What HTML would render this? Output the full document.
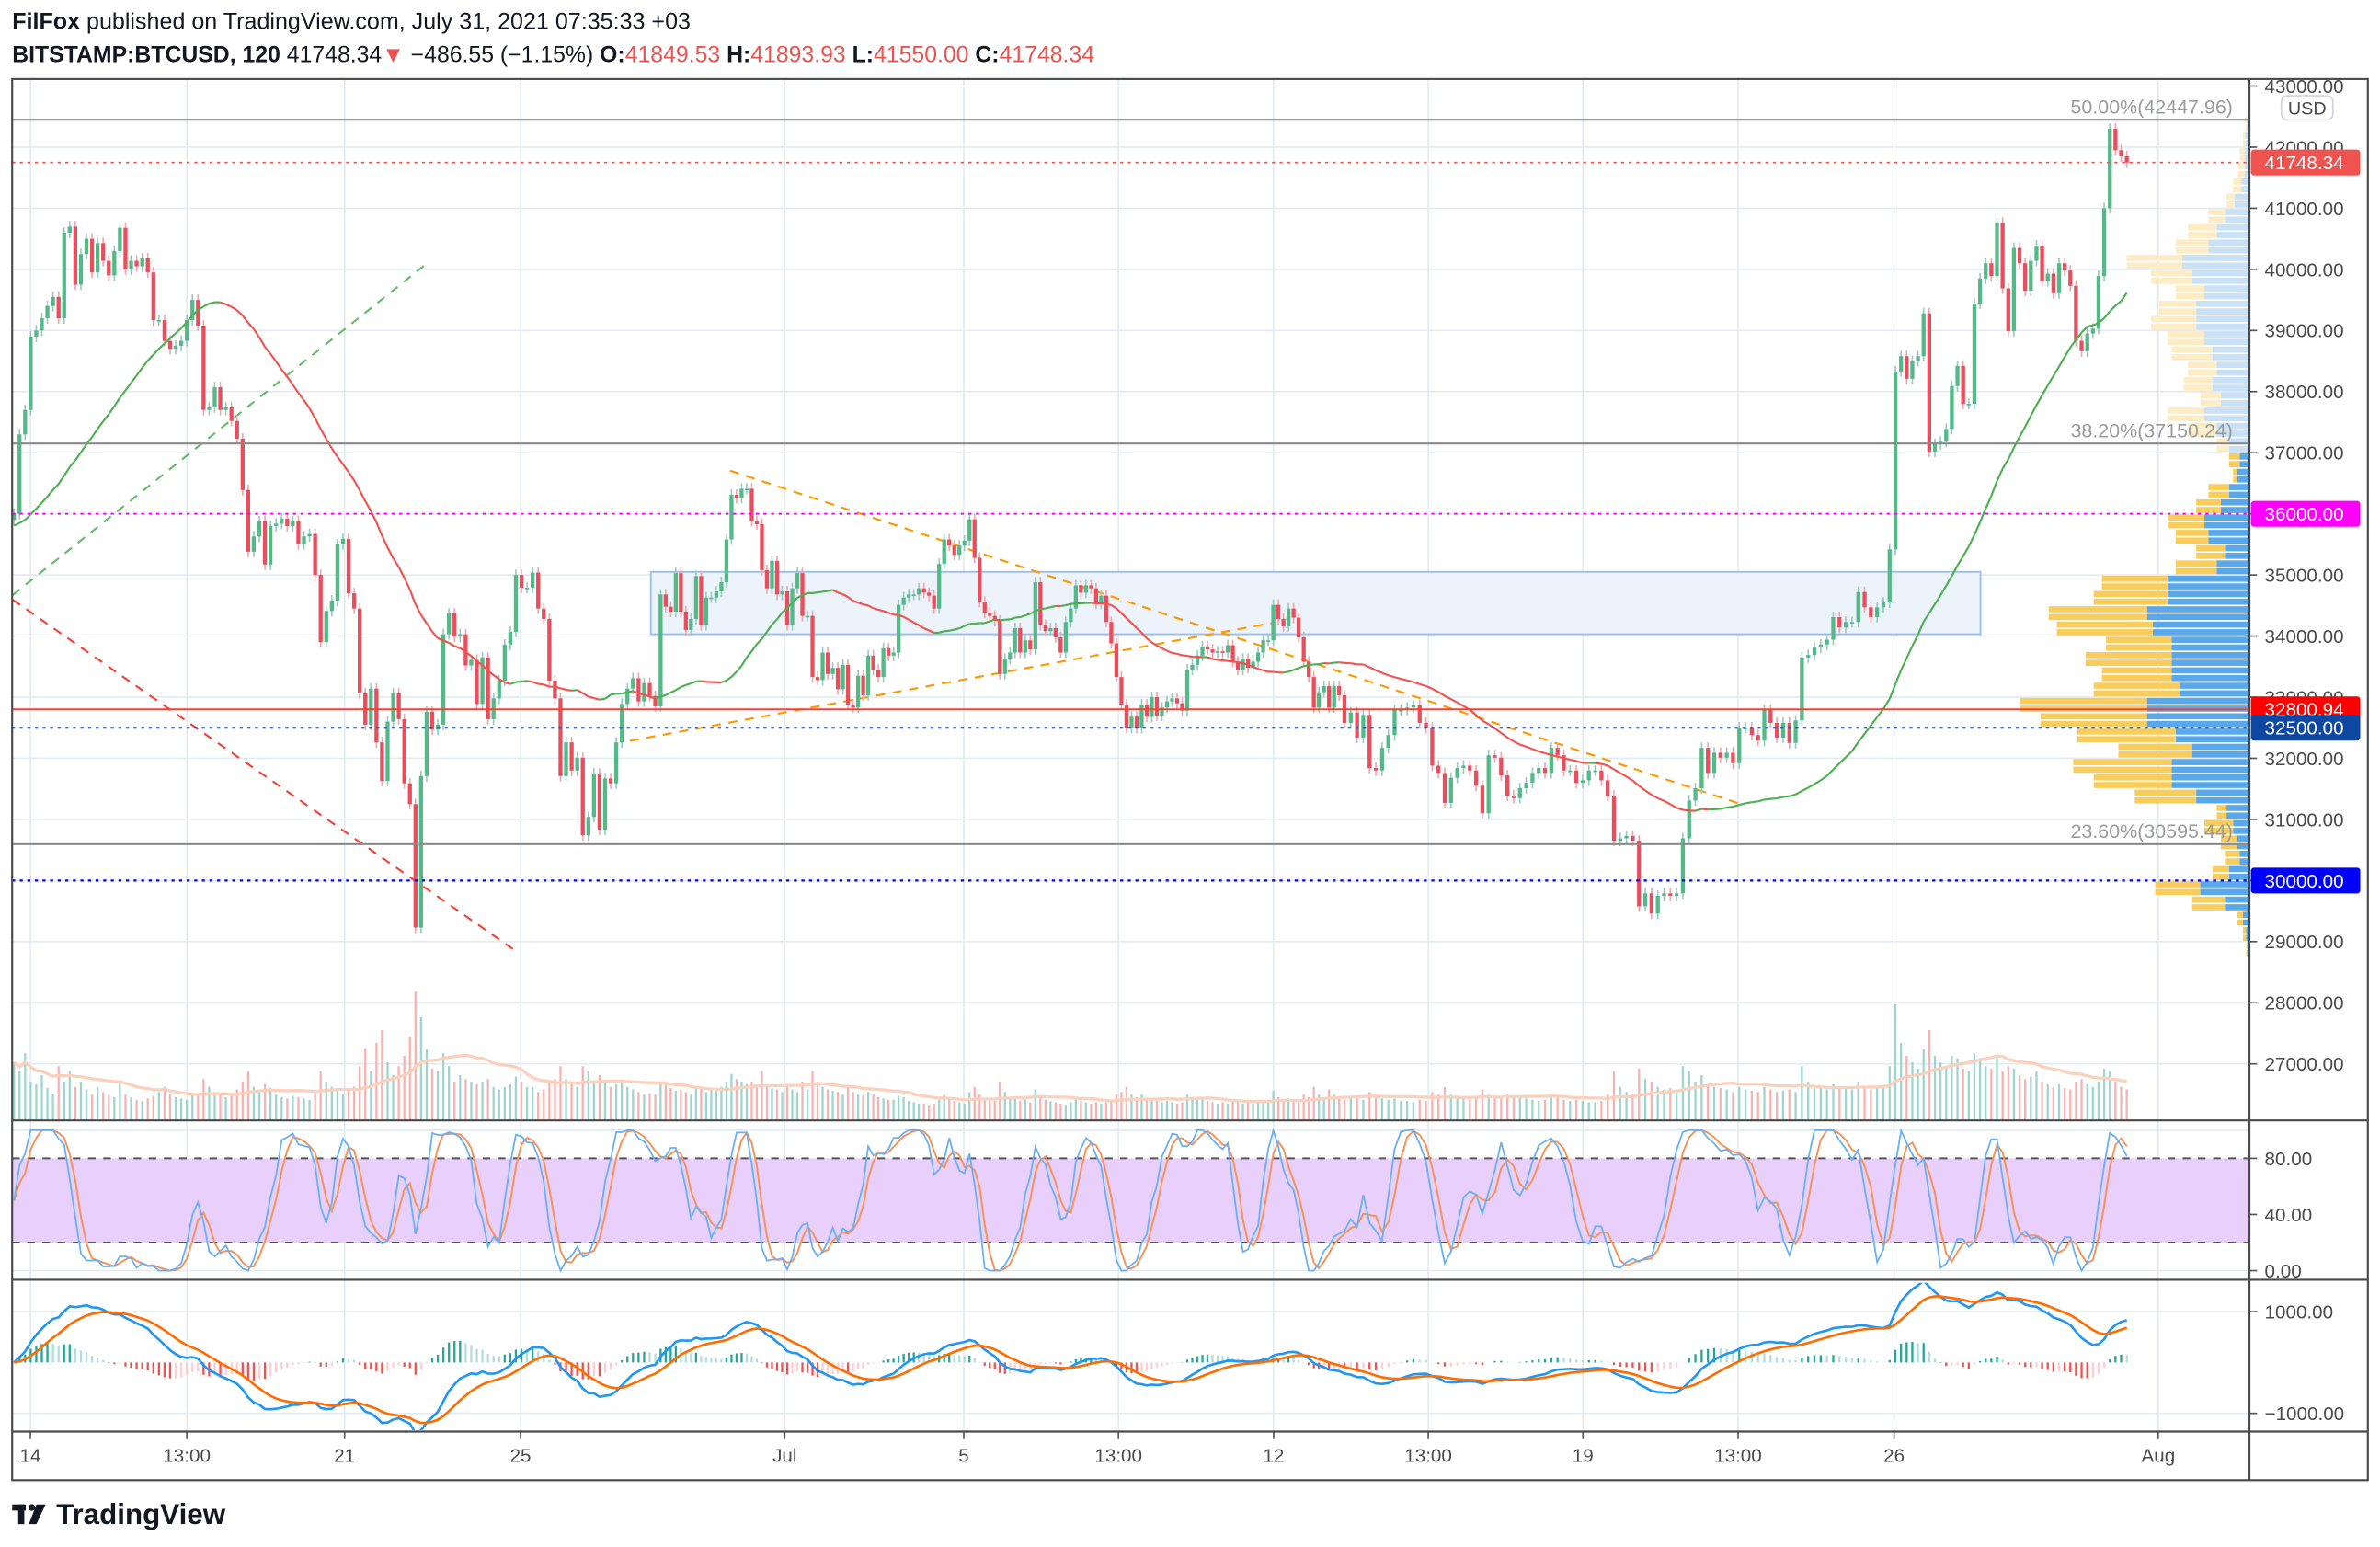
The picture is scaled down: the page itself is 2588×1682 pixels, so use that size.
<!DOCTYPE html>
<html><head><meta charset="utf-8">
<style>
html,body{margin:0;padding:0;background:#fff;}
svg{display:block;}
text{font-family:"Liberation Sans",sans-serif;}
</style></head>
<body>
<svg id="chart" xmlns="http://www.w3.org/2000/svg" viewBox="0 0 1568 1019" width="2588" height="1682">
<rect x="0" y="0" width="1568" height="1019" fill="#ffffff"/>
<text x="8" y="19" font-size="15" fill="#131722" textLength="447" lengthAdjust="spacingAndGlyphs"><tspan font-weight="bold">FilFox</tspan> published on TradingView.com, July 31, 2021 07:35:33 +03</text>
<text x="8" y="41" font-size="15" fill="#131722" textLength="713" lengthAdjust="spacingAndGlyphs"><tspan font-weight="bold">BITSTAMP:BTCUSD, 120</tspan> 41748.34<tspan fill="#ef5350">▼</tspan> −486.55 (−1.15%) <tspan font-weight="bold">O:</tspan><tspan fill="#ef5350">41849.53</tspan> <tspan font-weight="bold">H:</tspan><tspan fill="#ef5350">41893.93</tspan> <tspan font-weight="bold">L:</tspan><tspan fill="#ef5350">41550.00</tspan> <tspan font-weight="bold">C:</tspan><tspan fill="#ef5350">41748.34</tspan></text>
<g id="grid"></g>
<g id="overlays"></g>
<g id="profile"></g>
<g id="volume"></g>
<g id="candles"></g>
<g id="ma"></g>
<g id="levels"></g>
<g id="rsi"></g>
<g id="macd"></g>
<g id="axes"></g>
<g>
<rect x="8" y="991" width="9" height="4" fill="#131722"/>
<rect x="12" y="991" width="4" height="13" fill="#131722"/>
<circle cx="21" cy="993" r="2.2" fill="#131722"/>
<polygon points="24,991 30,991 24,1004 19,1004" fill="#131722"/>
<text x="37" y="1004" font-size="19" font-weight="bold" fill="#131722">TradingView</text>
</g>
</svg>
<script>
// ---------- data ----------
const seg1Close=[36000,37300,37700,38900,39000,39200,39400,39550,39200,40600,
40700,39750,40250,40500,39950,40430,40140,39900,40300,40680,
40000,40140,40050,40180,39950,39170,39170,38830,38700,38750,
38830,39170,39500,39080,37700,37740,38070,37700,37740,37520,
37230,36390,35380,35630,35880,35170,35800,35840,35920,35800,
35880,35500,35630,35670,35000,33900,34410,34580,35500,35590,
34700,34450,33060,32550,33140,32260,31630,32600,33060,32640,
31590,31250,29230,31710,32760,32470,32550,34030,34370,33990,
34030,33520,33610,32890,33650,32640,32980,33270,33860,34070,
35000,34790,34790,35040,34450,34280,33270,32980,31710,32260,
31800,32010,30740,31040,31750,30830,31670,31590,32260,32890,
33140,33310,32930,33230,33020,32850];
const seg2Close=[34680,34480,34400,35030,34400,34100,34280,34980,34180,34630,
34630,34730,34880,35580,36310,36260,36410,36410,35880,35830,
35080,34780,35230,34680,34730,34180,34780,35030,34330,34330,
33330,33280,33730,33380,33480,33130,33530,32880,32830,33350,
33030,33680,33450,33330,33800,33680,33730,34510,34630,34680,
34680,34780,34710,34660,34450,35180,35580,35480,35330,35480,
35560,35910,35280,34560,34380,34330,34250,33380,33630,33730,
34130,33730,33930,33780,34880,34180,34080,34130,33980,33730,
34230,34450,34830,34710,34830,34780,34530,34660,34230,33880,
33330,32880,32500,32680,32500,32880,32680,33000,32700,32830,
32930,32980,32900,32780,33450,33530,33680,33830,33780,33730,
33750,33730,33850,33580,33450,33630,33480,33580,33730,33930,
33930,34510,34280,34160,34450,34300,33980,33580,33330,32830,
33080,33180,32830,33180,33030];
const seg3Close=[32580,32750,32340,32710,31840,31800,32170,32380,32790,32790,
32830,32870,32580,32500,31880,31760,31270,31680,31840,31880,
31800,31550,31100,32050,32010,31720,31390,31350,31510,31600,
31760,31840,31760,32170,32050,31800,31800,31600,31640,31800,
31800,31640,31390,30650,30690,30730,30650,29580,29790,29460,
29750,29790,29750,29790,30690,31310,31510,32170,31760,32090,
32010,32090,31920,32500,32500,32380,32290,32790,32580,32340,
32580,32250,32620,33650,33690,33810,33860,33940,34310,34140,
34230,34230,34720,34470,34310,34470,34550,35420];
const seg4Close=[38330,38580,
38210,38500,38580,39280,37020,37140,37180,37390,38090,38420,
37800,37800,39440,39850,40100,39890,40760,39690,38990,40350,
40100,39650,40140,40390,39810,39930,39610,40100,39980,39730,
38830,38660,38950,39030,39890,41000,42300,41950,41850,41748];
const seg1Vol=[450,380,520,300,280,350,250,200,420,300,380,260,300,240,200,260,220,200,180,300,
200,180,160,150,170,190,220,260,200,180,170,160,210,190,320,260,220,200,180,190,
240,300,380,260,240,280,250,200,180,170,190,180,170,160,220,380,300,260,250,200,
240,260,420,560,380,600,700,450,350,420,500,650,1000,800,550,400,380,520,420,300,
350,320,300,280,300,320,260,240,260,280,340,300,260,260,220,240,300,320,420,320,
280,260,420,380,300,350,300,260,280,300,260,240,220,200,210,200];
const seg2Vol=[300,280,250,230,240,220,200,260,240,220,230,240,260,300,360,320,300,280,300,260,
380,280,250,240,220,260,240,220,300,240,380,300,260,240,230,220,200,260,220,200,
190,220,200,180,170,160,160,190,180,150,140,130,130,120,130,160,200,180,150,140,
130,220,260,200,170,160,150,300,220,180,170,150,160,140,240,180,160,150,140,130,
120,140,180,150,140,130,140,130,140,150,200,220,260,200,180,200,170,160,150,140,
150,140,130,140,200,180,160,170,150,140,130,140,130,150,140,130,140,130,150,160,
140,230,180,160,170,150,160,200,180,260,200,180,240,200,180];
const seg3Vol=[160,170,190,160,220,180,170,160,170,150,150,140,160,150,220,200,260,200,180,170,
160,180,240,200,180,170,200,190,180,170,160,150,160,200,180,160,150,160,150,140,
140,150,200,380,260,220,200,400,320,300,260,240,250,240,420,380,300,350,280,260,
250,240,220,260,240,230,220,260,240,220,230,240,220,420,300,260,250,240,280,260,
250,240,300,260,240,250,260,420];
const seg4Vol=[900,600,500,450,400,550,700,500,450,420,500,480,
400,380,520,480,420,400,500,380,420,400,350,320,340,380,300,280,260,280,250,240,
300,320,280,260,300,400,380,300,260,240];
const segStartDay=[-0.37,14.22,29.65,42.08];
const segEndDay=[14.10,29.53,41.95,47.3];
const priceTicks=[27000,28000,29000,30000,31000,32000,33000,34000,35000,36000,37000,38000,39000,40000,41000,42000,43000];
const timeTickDays=[0,3.53,7.09,11.06,17.02,21.06,24.55,28.05,31.54,35.03,38.53,42.05,48.01];
const timeTickLabels=["14","13:00","21","25","Jul","5","13:00","12","13:00","19","13:00","26","Aug"];
const profilePrice=[42250,42000,41750,41500,41250,41000,40750,40500,40250,40000,39750,39500,39250,39000,38750,38500,38250,38000,37750,37500,37250,37000,36750,36500,36250,36000,35750,35500,35250,35000,34750,34500,34250,34000,33750,33500,33250,33000,32750,32500,32250,32000,31750,31500,31250,31000,30750,30500,30250,30000,29750,29500,29250,29000,28750];
const profileTotal=[5,8,12,14,20,28,50,75,90,150,120,90,110,120,100,95,75,80,60,100,75,40,25,20,50,65,100,90,65,90,180,190,245,235,175,200,180,190,280,255,210,160,215,190,140,40,55,35,30,45,115,70,15,8,4];
const profileUp=[3,5,6,6,10,18,30,40,50,82,70,55,65,65,55,45,40,45,35,55,40,25,12,15,25,35,55,50,30,40,100,100,125,118,95,95,95,85,125,125,90,70,95,95,65,28,20,15,12,25,60,30,8,4,2];
const fibLevels=[42447.96,37150.24,30595.44];
const fibLabels=["50.00%(42447.96)","38.20%(37150.24)","23.60%(30595.44)"];

// ---------- scales ----------
const NS='http://www.w3.org/2000/svg';
const PL=8, PR=1482, MT=52, MB=738, PROFILE_SCALE=0.54;
function xDay(d){return 20+d*29.2;}
function yPrice(p){return 580-(p-30000)*0.04026;}
function yOsc(v){return 837-v*0.925;}
function yMacd(v){return 897.5-v*0.0335;}
function mk(tag,attrs,parent){const e=document.createElementNS(NS,tag);for(const k in attrs)e.setAttribute(k,attrs[k]);parent.appendChild(e);return e;}
const G=id=>document.getElementById(id);

// ---------- build candles ----------
const segC=[seg1Close,seg2Close,seg3Close,seg4Close], segV=[seg1Vol,seg2Vol,seg3Vol,seg4Vol];
const candles=[]; let prev=35900;
for(let s=0;s<segC.length;s++){const arr=segC[s],n=arr.length;
  for(let i=0;i<n;i++){const t=segStartDay[s]+(segEndDay[s]-segStartDay[s])*i/(n-1);
    candles.push({t:t,o:prev,c:arr[i],v:segV[s][i]});prev=arr[i];}}
const closes=candles.map(c=>c.c);

// ---------- grid ----------
const grid=G('grid');
priceTicks.forEach(p=>{const y=yPrice(p); if(y<MT||y>MB)return;
  const l=mk('line',{x1:PL,x2:PR,y1:y,y2:y,stroke:'#e3ebf2','stroke-width':1},grid);
  
  });
timeTickDays.forEach(d=>{const x=xDay(d);
  const l=mk('line',{x1:x,x2:x,y1:MT,y2:943,stroke:'#e3ebf2','stroke-width':1},grid);
  
  });
[0,40,100].forEach(v=>{const l=mk('line',{x1:PL,x2:PR,y1:yOsc(v),y2:yOsc(v),stroke:'#e3ebf2'},grid);
  
  });
[1000,-1000].forEach(v=>{const l=mk('line',{x1:PL,x2:PR,y1:yMacd(v),y2:yMacd(v),stroke:'#e3ebf2'},grid);
  
  });

// ---------- overlays (zone, trendlines) ----------
const ov=G('overlays');
const zone=mk('rect',{x:xDay(14.0),y:yPrice(35050),width:xDay(44.0)-xDay(14.0),height:yPrice(34030)-yPrice(35050),fill:'#edf3fb',stroke:'#9dc2e8','stroke-width':1.2},ov);


const tl=[[xDay(-0.4),392,283,172,'#66bb6a','green-trendline'],[xDay(-0.4),395,342,628,'#f44336','red-trendline'],[481,310,1145,529,'#ff9800','orange-descending-trendline'],[415,488,840,410,'#ff9800','orange-ascending-trendline']];
tl.forEach(a=>{const l=mk('line',{x1:a[0],y1:a[1],x2:a[2],y2:a[3],stroke:a[4],'stroke-width':1.3,'stroke-dasharray':'6 5'},ov);
  
  });

// ---------- volume profile ----------
const pg=G('profile');
profilePrice.forEach((p,i)=>{const y0=yPrice(p+250),y1=yPrice(p);const light=p>=36900;
  const tw=profileTotal[i]*PROFILE_SCALE, uw=profileUp[i]*PROFILE_SCALE;
  [0,1].forEach(k=>{const y=y0+k*(y1-y0)/2+0.5,h=(y1-y0)/2-1;
    const b=mk('rect',{x:PR-uw,y:y,width:uw,height:h,fill:light?'#c8e1f7':'#5aa8ec'},pg);
    
    
    const yb=mk('rect',{x:PR-tw,y:y,width:tw-uw,height:h,fill:light?'#fdecc4':'#f9cd5c'},pg);
    
    });});

// ---------- volume ----------
const vg=G('volume');
candles.forEach(c=>{const h=c.v*0.085;const x=xDay(c.t);
  const r=mk('rect',{x:x-0.7,y:MB-h,width:1.4,height:h,fill:c.c>=c.o?'#9fd5cf':'#f7b3b1'},vg);
  
  });
{let pts=[];for(let i=0;i<candles.length;i++){const a=Math.max(0,i-19);let s=0;for(let j=a;j<=i;j++)s+=candles[j].v;pts.push(xDay(candles[i].t).toFixed(1)+','+(MB-s/(i-a+1)*0.085).toFixed(1));}
 const pl=mk('polyline',{points:pts.join(' '),fill:'none',stroke:'#fbd0bc','stroke-width':2},vg);
 
 }

// ---------- candles ----------
const cg=G('candles');
candles.forEach(c=>{const x=xDay(c.t),up=c.c>=c.o;
  const hi=Math.max(c.o,c.c)+90,lo=Math.min(c.o,c.c)-90;
  const w=mk('line',{x1:x,x2:x,y1:yPrice(hi),y2:yPrice(lo),stroke:up?'#9cc9c6':'#f3a6ad','stroke-width':1},cg);
  
  
  const yt=yPrice(Math.max(c.o,c.c)),yb=yPrice(Math.min(c.o,c.c));
  const b=mk('rect',{x:x-1.3,y:yt,width:2.6,height:Math.max(1,yb-yt),fill:up?'#53b987':'#eb4d5c'},cg);
  
  });

// ---------- moving average ----------
const mg=G('ma'); const maP=35, ma=[];
for(let i=0;i<closes.length;i++){const a=Math.max(0,i-maP+1);let s=35800*(maP-(i-a+1));for(let j=a;j<=i;j++)s+=closes[j];ma.push(s/maP);}
for(let i=1;i<ma.length;i++){const l=mk('line',{x1:xDay(candles[i-1].t),y1:yPrice(ma[i-1]),x2:xDay(candles[i].t),y2:yPrice(ma[i]),stroke:ma[i]>=ma[i-1]?'#4caf50':'#f0524f','stroke-width':1.3},mg);
  
  }

// ---------- levels ----------
const lg=G('levels');
fibLevels.forEach((p,i)=>{const y=yPrice(p);
  const l=mk('line',{x1:PL,x2:PR,y1:y,y2:y,stroke:'#8a8a8a','stroke-width':1.3},lg);
  
  
  const t=mk('text',{x:1471,y:y-4,'font-size':13,fill:'#9b9b9b','text-anchor':'end'},lg);
  
  
  t.textContent=fibLabels[i];});
const hl=[[41748.34,'#ef5350','2 3',1],[36000,'#ff00ff','2 3',1.2],[32800.94,'#f44336','',1.2],[32500,'#0d47a1','2 3',1.2],[30000,'#0000ff','2 3',1.4]];
hl.forEach(a=>{const y=yPrice(a[0]);
  const l=mk('line',{x1:PL,x2:PR,y1:y,y2:y,stroke:a[1],'stroke-width':a[3],'stroke-dasharray':a[2]},lg);
  
  });

// ---------- oscillators ----------
function ema(arr,n){const k=2/(n+1),o=[];let e=arr[0];arr.forEach((v,i)=>{e=i?v*k+e*(1-k):v;o.push(e);});return o;}
function sma(arr,n){return arr.map((v,i)=>{const a=Math.max(0,i-n+1);let s=0;for(let j=a;j<=i;j++)s+=arr[j];return s/(i-a+1);});}
const rsi=[50];{let ag=0,al=0;for(let i=1;i<closes.length;i++){const d=closes[i]-closes[i-1];const g=Math.max(d,0),l=Math.max(-d,0);
  if(i<=10){ag+=g/10;al+=l/10;}else{ag=(ag*9+g)/10;al=(al*9+l)/10;}rsi.push(al===0?100:100-100/(1+ag/al));}}
const st=rsi.map((v,i)=>{const a=Math.max(0,i-9);let mn=1e9,mx=-1e9;for(let j=a;j<=i;j++){mn=Math.min(mn,rsi[j]);mx=Math.max(mx,rsi[j]);}return mx-mn<1e-9?50:(v-mn)/(mx-mn)*100;});
const K=sma(st,3),D=sma(K,3);
const rg=G('rsi');
const band=mk('rect',{x:PL,y:yOsc(80),width:PR-PL,height:yOsc(20)-yOsc(80),fill:'#e8cffc'},rg);


[80,20].forEach(v=>{const l=mk('line',{x1:PL,x2:PR,y1:yOsc(v),y2:yOsc(v),stroke:'#555','stroke-width':1.2,'stroke-dasharray':'5 5'},rg);
  
  });
function poly(arr,yf,color,w,g){const pts=arr.map((v,i)=>xDay(candles[i].t).toFixed(1)+','+yf(v).toFixed(1)).join(' ');
  return mk('polyline',{points:pts,fill:'none',stroke:color,'stroke-width':w},g);}
const dl=poly(D,yOsc,'#f6935a',1.2,rg);


const kl=poly(K,yOsc,'#6ab0f5',1.1,rg);



const e12=ema(closes,12),e26=ema(closes,26),macd=e12.map((v,i)=>v-e26[i]),sig=ema(macd,9),hist=macd.map((v,i)=>v-sig[i]);
const mcg=G('macd');
const clip=mk('clipPath',{id:'macdclip'},mcg);mk('rect',{x:PL,y:845,width:PR-PL,height:97},clip);
const mc=mk('g',{'clip-path':'url(#macdclip)'},mcg);
hist.forEach((v,i)=>{const x=xDay(candles[i].t),y0=yMacd(0),y1=yMacd(v);const rising=i>0&&v>hist[i-1];
  const col=v>=0?(rising?'#26a69a':'#b2dfdb'):(rising?'#ffcdd2':'#ef5350');
  const r=mk('rect',{x:x-0.7,y:Math.min(y0,y1),width:1.4,height:Math.abs(y1-y0),fill:col},mc);
  
  });
const ml=poly(macd,yMacd,'#2196f3',1.6,mc);


const sl=poly(sig,yMacd,'#ff6d00',1.6,mc);



// ---------- axes & frame ----------
const ax=G('axes');
priceTicks.forEach(p=>{const y=yPrice(p);if(y<50||y>MB-4)return;
  mk('line',{x1:PR,x2:PR+5,y1:y,y2:y,stroke:'#555'},ax);
  const t=mk('text',{x:1492,y:y+4.5,'font-size':12.5,fill:'#4a4a4a'},ax);
  
  
  t.textContent=p.toFixed(2);});
const osc=[[80,'80.00'],[40,'40.00'],[0,'0.00']];
osc.forEach(a=>{const y=yOsc(a[0]);mk('line',{x1:PR,x2:PR+5,y1:y,y2:y,stroke:'#555'},ax);
  const t=mk('text',{x:1492,y:y+4.5,'font-size':12.5,fill:'#4a4a4a'},ax);
  
  
  t.textContent=a[1];});
[[1000,'1000.00'],[-1000,'−1000.00']].forEach(a=>{const y=yMacd(a[0]);mk('line',{x1:PR,x2:PR+5,y1:y,y2:y,stroke:'#555'},ax);
  const t=mk('text',{x:1492,y:y+4.5,'font-size':12.5,fill:'#4a4a4a'},ax);
  
  
  t.textContent=a[1];});
timeTickDays.forEach((d,i)=>{const x=xDay(d);mk('line',{x1:x,x2:x,y1:943,y2:948,stroke:'#555'},ax);
  const t=mk('text',{x:x,y:963,'font-size':12.5,fill:'#4a4a4a','text-anchor':'middle'},ax);
  
  
  t.textContent=timeTickLabels[i];});
mk('rect',{x:1483,y:38,width:77,height:13.5,fill:'#fff'},ax);
const boxes=[[41748.34,'#ef5350','41748.34'],[36000,'#ff00ff','36000.00'],[32800.94,'#ff0000','32800.94'],[32500,'#0d47a1','32500.00'],[30000,'#0000ff','30000.00']];
boxes.forEach(b=>{const y=yPrice(b[0]);
  const r=mk('rect',{x:1483,y:y-8.5,width:72,height:17,rx:2,fill:b[1]},ax);
  
  
  const t=mk('text',{x:1492,y:y+4.5,'font-size':12.5,fill:'#fff'},ax);
  
  
  t.textContent=b[2];});
const usd=mk('rect',{x:1503,y:63,width:34,height:16,rx:4,fill:'#fff',stroke:'#d0d3d8'},ax);


const ut=mk('text',{x:1520,y:75.5,'font-size':12,fill:'#4a4a4a','text-anchor':'middle'},ax);


ut.textContent='USD';
const fr=mk('rect',{x:PL,y:MT,width:1552,height:923,fill:'none',stroke:'#4a4a4a','stroke-width':1.3},ax);


[[PR,MT,PR,975],[PL,MB,1560,MB],[PL,843,1560,843],[PL,943,1560,943]].forEach(a=>{const l=mk('line',{x1:a[0],y1:a[1],x2:a[2],y2:a[3],stroke:'#4a4a4a','stroke-width':1.3},ax);
  
  });
</script>
</body></html>
